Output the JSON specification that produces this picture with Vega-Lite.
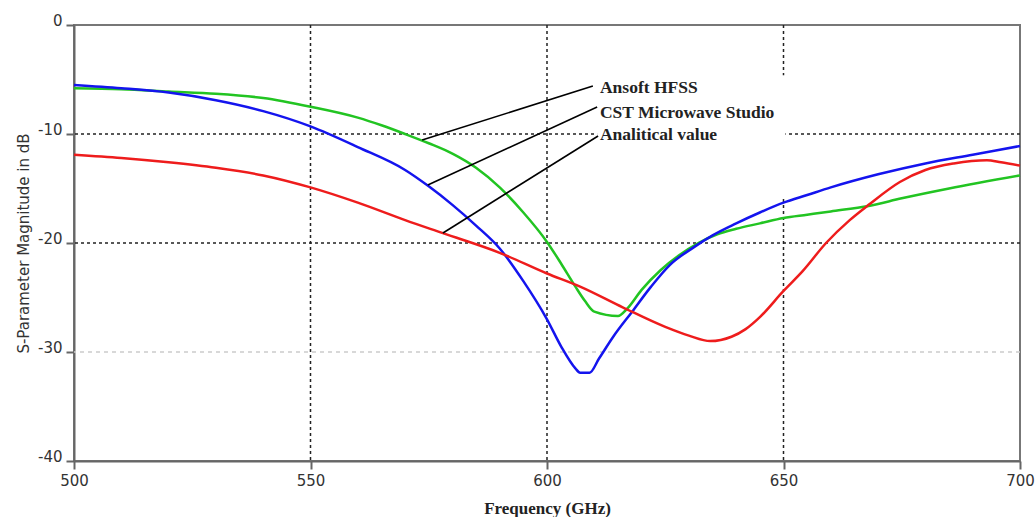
{
  "$schema": "https://vega.github.io/schema/vega-lite/v6.json",
  "width": 946,
  "height": 436,
  "autosize": "none",
  "padding": {"left": 74, "top": 25, "right": 15, "bottom": 56},
  "background": "white",
  "config": {
    "view": {"stroke": "#777777", "strokeWidth": 2},
    "axis": {
      "domainColor": "#666666", "domainWidth": 2,
      "tickColor": "#666666", "tickWidth": 2, "tickSize": 8,
      "labelFont": "DejaVu Sans", "labelFontSize": 15, "labelColor": "#333333",
      "grid": false
    },
    "axisY": {"grid": false},
    "axisX": {"grid": false}
  },
  "datasets": {
    "curves": [
      {"f": 500, "db": -5.8, "series": "Ansoft HFSS"},
      {"f": 510, "db": -5.9, "series": "Ansoft HFSS"},
      {"f": 520, "db": -6.1, "series": "Ansoft HFSS"},
      {"f": 530, "db": -6.3, "series": "Ansoft HFSS"},
      {"f": 540, "db": -6.7, "series": "Ansoft HFSS"},
      {"f": 550, "db": -7.5, "series": "Ansoft HFSS"},
      {"f": 560, "db": -8.5, "series": "Ansoft HFSS"},
      {"f": 565, "db": -9.2, "series": "Ansoft HFSS"},
      {"f": 570, "db": -10.0, "series": "Ansoft HFSS"},
      {"f": 575, "db": -10.85, "series": "Ansoft HFSS"},
      {"f": 580, "db": -11.8, "series": "Ansoft HFSS"},
      {"f": 585, "db": -13.1, "series": "Ansoft HFSS"},
      {"f": 590, "db": -14.9, "series": "Ansoft HFSS"},
      {"f": 595, "db": -17.2, "series": "Ansoft HFSS"},
      {"f": 600, "db": -19.9, "series": "Ansoft HFSS"},
      {"f": 603, "db": -21.9, "series": "Ansoft HFSS"},
      {"f": 606, "db": -24.0, "series": "Ansoft HFSS"},
      {"f": 608, "db": -25.3, "series": "Ansoft HFSS"},
      {"f": 610, "db": -26.3, "series": "Ansoft HFSS"},
      {"f": 615, "db": -26.7, "series": "Ansoft HFSS"},
      {"f": 617, "db": -26.0, "series": "Ansoft HFSS"},
      {"f": 620, "db": -24.3, "series": "Ansoft HFSS"},
      {"f": 624, "db": -22.5, "series": "Ansoft HFSS"},
      {"f": 628, "db": -21.1, "series": "Ansoft HFSS"},
      {"f": 632, "db": -20.0, "series": "Ansoft HFSS"},
      {"f": 636, "db": -19.2, "series": "Ansoft HFSS"},
      {"f": 640, "db": -18.7, "series": "Ansoft HFSS"},
      {"f": 645, "db": -18.2, "series": "Ansoft HFSS"},
      {"f": 650, "db": -17.7, "series": "Ansoft HFSS"},
      {"f": 655, "db": -17.4, "series": "Ansoft HFSS"},
      {"f": 660, "db": -17.1, "series": "Ansoft HFSS"},
      {"f": 668, "db": -16.6, "series": "Ansoft HFSS"},
      {"f": 675, "db": -15.9, "series": "Ansoft HFSS"},
      {"f": 685, "db": -15.0, "series": "Ansoft HFSS"},
      {"f": 700, "db": -13.8, "series": "Ansoft HFSS"},

      {"f": 500, "db": -5.5, "series": "CST Microwave Studio"},
      {"f": 510, "db": -5.8, "series": "CST Microwave Studio"},
      {"f": 520, "db": -6.2, "series": "CST Microwave Studio"},
      {"f": 530, "db": -6.9, "series": "CST Microwave Studio"},
      {"f": 540, "db": -7.9, "series": "CST Microwave Studio"},
      {"f": 550, "db": -9.3, "series": "CST Microwave Studio"},
      {"f": 560, "db": -11.2, "series": "CST Microwave Studio"},
      {"f": 570, "db": -13.3, "series": "CST Microwave Studio"},
      {"f": 575, "db": -14.8, "series": "CST Microwave Studio"},
      {"f": 580, "db": -16.5, "series": "CST Microwave Studio"},
      {"f": 585, "db": -18.4, "series": "CST Microwave Studio"},
      {"f": 590, "db": -20.5, "series": "CST Microwave Studio"},
      {"f": 595, "db": -23.5, "series": "CST Microwave Studio"},
      {"f": 600, "db": -27.0, "series": "CST Microwave Studio"},
      {"f": 603, "db": -29.5, "series": "CST Microwave Studio"},
      {"f": 606, "db": -31.5, "series": "CST Microwave Studio"},
      {"f": 607, "db": -31.9, "series": "CST Microwave Studio"},
      {"f": 609, "db": -31.9, "series": "CST Microwave Studio"},
      {"f": 611, "db": -30.6, "series": "CST Microwave Studio"},
      {"f": 614, "db": -28.6, "series": "CST Microwave Studio"},
      {"f": 618, "db": -26.3, "series": "CST Microwave Studio"},
      {"f": 622, "db": -24.0, "series": "CST Microwave Studio"},
      {"f": 626, "db": -22.0, "series": "CST Microwave Studio"},
      {"f": 631, "db": -20.4, "series": "CST Microwave Studio"},
      {"f": 635, "db": -19.3, "series": "CST Microwave Studio"},
      {"f": 640, "db": -18.2, "series": "CST Microwave Studio"},
      {"f": 645, "db": -17.2, "series": "CST Microwave Studio"},
      {"f": 650, "db": -16.3, "series": "CST Microwave Studio"},
      {"f": 655, "db": -15.6, "series": "CST Microwave Studio"},
      {"f": 660, "db": -14.9, "series": "CST Microwave Studio"},
      {"f": 670, "db": -13.7, "series": "CST Microwave Studio"},
      {"f": 680, "db": -12.7, "series": "CST Microwave Studio"},
      {"f": 690, "db": -11.9, "series": "CST Microwave Studio"},
      {"f": 700, "db": -11.1, "series": "CST Microwave Studio"},

      {"f": 500, "db": -11.9, "series": "Analitical value"},
      {"f": 510, "db": -12.2, "series": "Analitical value"},
      {"f": 520, "db": -12.6, "series": "Analitical value"},
      {"f": 530, "db": -13.1, "series": "Analitical value"},
      {"f": 540, "db": -13.8, "series": "Analitical value"},
      {"f": 550, "db": -14.9, "series": "Analitical value"},
      {"f": 560, "db": -16.3, "series": "Analitical value"},
      {"f": 570, "db": -17.9, "series": "Analitical value"},
      {"f": 578, "db": -19.1, "series": "Analitical value"},
      {"f": 590, "db": -20.9, "series": "Analitical value"},
      {"f": 600, "db": -22.8, "series": "Analitical value"},
      {"f": 607, "db": -24.0, "series": "Analitical value"},
      {"f": 616, "db": -25.9, "series": "Analitical value"},
      {"f": 625, "db": -27.7, "series": "Analitical value"},
      {"f": 630, "db": -28.5, "series": "Analitical value"},
      {"f": 634.5, "db": -29.0, "series": "Analitical value"},
      {"f": 639, "db": -28.6, "series": "Analitical value"},
      {"f": 642, "db": -27.9, "series": "Analitical value"},
      {"f": 645, "db": -26.8, "series": "Analitical value"},
      {"f": 650, "db": -24.4, "series": "Analitical value"},
      {"f": 654, "db": -22.6, "series": "Analitical value"},
      {"f": 659, "db": -20.0, "series": "Analitical value"},
      {"f": 664, "db": -17.9, "series": "Analitical value"},
      {"f": 668, "db": -16.5, "series": "Analitical value"},
      {"f": 674.6, "db": -14.4, "series": "Analitical value"},
      {"f": 680, "db": -13.3, "series": "Analitical value"},
      {"f": 686, "db": -12.7, "series": "Analitical value"},
      {"f": 693, "db": -12.4, "series": "Analitical value"},
      {"f": 696, "db": -12.6, "series": "Analitical value"},
      {"f": 700, "db": -12.9, "series": "Analitical value"}
    ],
    "vgrid": [{"f": 550}, {"f": 600}, {"f": 650}],
    "hgrid": [{"db": -10, "kind": "major"}, {"db": -20, "kind": "major"}, {"db": -30, "kind": "minor"}],
    "labelbox": [{"f1": 610.6, "f2": 650.4, "db1": -4.6, "db2": -15.8}],
    "leaders": [
      {"f1": 609.7, "db1": -5.6, "f2": 573.6, "db2": -10.55, "label": "Ansoft HFSS"},
      {"f1": 610.6, "db1": -7.52, "f2": 574.8, "db2": -14.68, "label": "CST Microwave Studio"},
      {"f1": 610.8, "db1": -10.18, "f2": 578.0, "db2": -19.08, "label": "Analitical value"}
    ],
    "labels": [
      {"f": 611.2, "db": -6.24, "label": "Ansoft HFSS"},
      {"f": 611.2, "db": -8.53, "label": "CST Microwave Studio"},
      {"f": 611.2, "db": -10.55, "label": "Analitical value"}
    ]
  },
  "layer": [
    {
      "data": {"name": "vgrid"},
      "mark": {"type": "rule", "color": "#222222", "strokeWidth": 1.5, "strokeDash": [3, 3]},
      "encoding": {
        "x": {"field": "f", "type": "quantitative", "scale": {"domain": [500, 700], "nice": false, "zero": false},
              "axis": {"values": [500, 550, 600, 650, 700], "format": "d", "labelPadding": 4,
                       "labelAlign": "center", "grid": false,
                       "title": "Frequency (GHz)", "titleFont": "Liberation Serif", "titleFontSize": 17,
                       "titleFontWeight": "bold", "titleColor": "#222222", "titlePadding": 12}}
      }
    },
    {
      "data": {"name": "hgrid"},
      "transform": [{"filter": "datum.kind == 'major'"}],
      "mark": {"type": "rule", "color": "#222222", "strokeWidth": 1.5, "strokeDash": [3, 3]},
      "encoding": {
        "y": {"field": "db", "type": "quantitative", "scale": {"domain": [-40, 0], "nice": false, "zero": false},
              "axis": {"values": [0, -10, -20, -30, -40], "format": "d", "labelExpr": "replace(datum.label, '\u2212', '-')",
                       "labelPadding": 4, "labelOffset": -5, "grid": false,
                       "title": "S-Parameter Magnitude in dB", "titleFont": "DejaVu Sans", "titleFontSize": 15,
                       "titleFontWeight": "normal", "titleColor": "#333333", "titlePadding": 6}}
      }
    },
    {
      "data": {"name": "hgrid"},
      "transform": [{"filter": "datum.kind == 'minor'"}],
      "mark": {"type": "rule", "color": "#cccccc", "strokeWidth": 1.5, "strokeDash": [4, 4]},
      "encoding": {"y": {"field": "db", "type": "quantitative"}}
    },
    {
      "data": {"name": "labelbox"},
      "mark": {"type": "rect", "color": "white"},
      "encoding": {
        "x": {"field": "f1", "type": "quantitative"},
        "x2": {"field": "f2"},
        "y": {"field": "db1", "type": "quantitative"},
        "y2": {"field": "db2"}
      }
    },
    {
      "data": {"name": "curves"},
      "mark": {"type": "line", "strokeWidth": 2.5, "interpolate": "monotone"},
      "encoding": {
        "x": {"field": "f", "type": "quantitative"},
        "y": {"field": "db", "type": "quantitative"},
        "color": {"field": "series", "type": "nominal",
                  "scale": {"domain": ["Ansoft HFSS", "CST Microwave Studio", "Analitical value"],
                            "range": ["#22c422", "#1414ee", "#ee1c1c"]},
                  "legend": null},
        "order": {"field": "f", "type": "quantitative"}
      }
    },
    {
      "data": {"name": "leaders"},
      "mark": {"type": "rule", "color": "black", "strokeWidth": 1.6},
      "encoding": {
        "x": {"field": "f1", "type": "quantitative"},
        "x2": {"field": "f2"},
        "y": {"field": "db1", "type": "quantitative"},
        "y2": {"field": "db2"}
      }
    },
    {
      "data": {"name": "labels"},
      "mark": {"type": "text", "align": "left", "baseline": "alphabetic", "font": "Liberation Serif",
               "fontSize": 17.5, "fontWeight": "bold", "color": "#222222"},
      "encoding": {
        "x": {"field": "f", "type": "quantitative"},
        "y": {"field": "db", "type": "quantitative"},
        "text": {"field": "label"}
      }
    }
  ]
}
